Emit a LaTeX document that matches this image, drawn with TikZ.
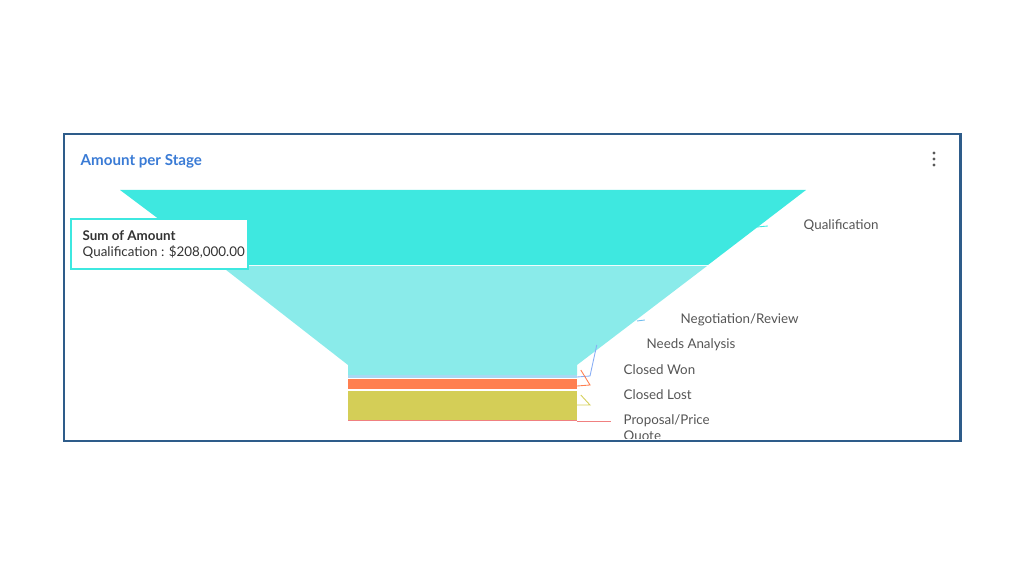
\documentclass[tikz,border=0pt]{standalone}
\usepackage{fontspec}
\setmainfont{Lato}
\usepackage{tikz}
\definecolor{frameblue}{HTML}{2E5C8A}
\definecolor{titleblue}{HTML}{3A7BD5}
\definecolor{qualc}{HTML}{3EE8E0}
\definecolor{negoc}{HTML}{8AEBEA}
\definecolor{needc}{HTML}{A9D8F3}
\definecolor{wonc}{HTML}{FF7F50}
\definecolor{lostc}{HTML}{D4CE57}
\definecolor{propc}{HTML}{F08080}
\definecolor{textc}{HTML}{555555}
\tikzset{
  lbl/.style={anchor=west, inner sep=0pt, text=textc, font=\fontsize{3.8}{4.4}\selectfont, align=left},
  lead/.style={line width=0.25pt}
}
\begin{document}
\begin{tikzpicture}[x=0.01cm,y=-0.01cm]
\useasboundingbox (0,0) rectangle (1024,576);
% Marco
\draw[frameblue, line width=0.85pt] (64,134) rectangle (960,441);
\node[anchor=west, inner sep=0pt, text=titleblue, font=\fontsize{4.3}{5}\selectfont\bfseries] (title) at (80,161) {Amount per Stage};
\foreach \y in {153,159,165} \fill[gray!70!black] (934,\y) circle (1.6);
\begin{scope}
\clip (66,136) rectangle (958,438);
% Embudo
\fill[qualc] (120,190) -- (806,190) -- (708,265) -- (220,265) -- cycle;
\fill[negoc] (221,266) -- (707,266) -- (577,365) -- (577,375) -- (348,375) -- (348,365) -- cycle;
\fill[needc] (348,375) rectangle (577,378);
\fill[wonc] (348,379) rectangle (577,389);
\fill[lostc] (348,391) rectangle (577,420);
\fill[propc] (348,420) rectangle (577,420.6);
% Etiquetas
\node[lbl] (qual) at (803,226) {Qualification};
\node[lbl] (nego) at (680,320) {Negotiation/Review};
\node[lbl] (need) at (646,345) {Needs Analysis};
\node[lbl] (won) at (623,370) {Closed Won};
\node[lbl] (lost) at (623,395) {Closed Lost};
\node[lbl, anchor=north west] (prop) at (623,414) {Proposal/Price\\Quote};
\draw[lead, qualc] (757,227) -- ([xshift=-10]qual.west);
\draw[lead, negoc!80!blue] (637,321) -- ([xshift=-10]nego.west);
\draw[lead, needc!80!blue] (577,377) -- (590,376) -- ([xshift=-14]need.west);
\draw[lead, wonc] (577,386) -- (590,385) -- ([xshift=-12]won.west);
\draw[lead, lostc] (577,405) -- (590,405) -- ([xshift=-12]lost.west);
\draw[lead, propc] (577,421) -- (611,421);
\end{scope}
% Tooltip
\node[draw=qualc, line width=0.45pt, fill=white, minimum width=1.77cm, minimum height=0.5cm, anchor=north west, inner sep=0pt] (tip) at (70,218) {};
\node[lbl, text=black!80, anchor=north west] (tiptext) at (82,230) {\textbf{Sum of Amount}\\Qualification : \$208,000.00};
\end{tikzpicture}
\end{document}
